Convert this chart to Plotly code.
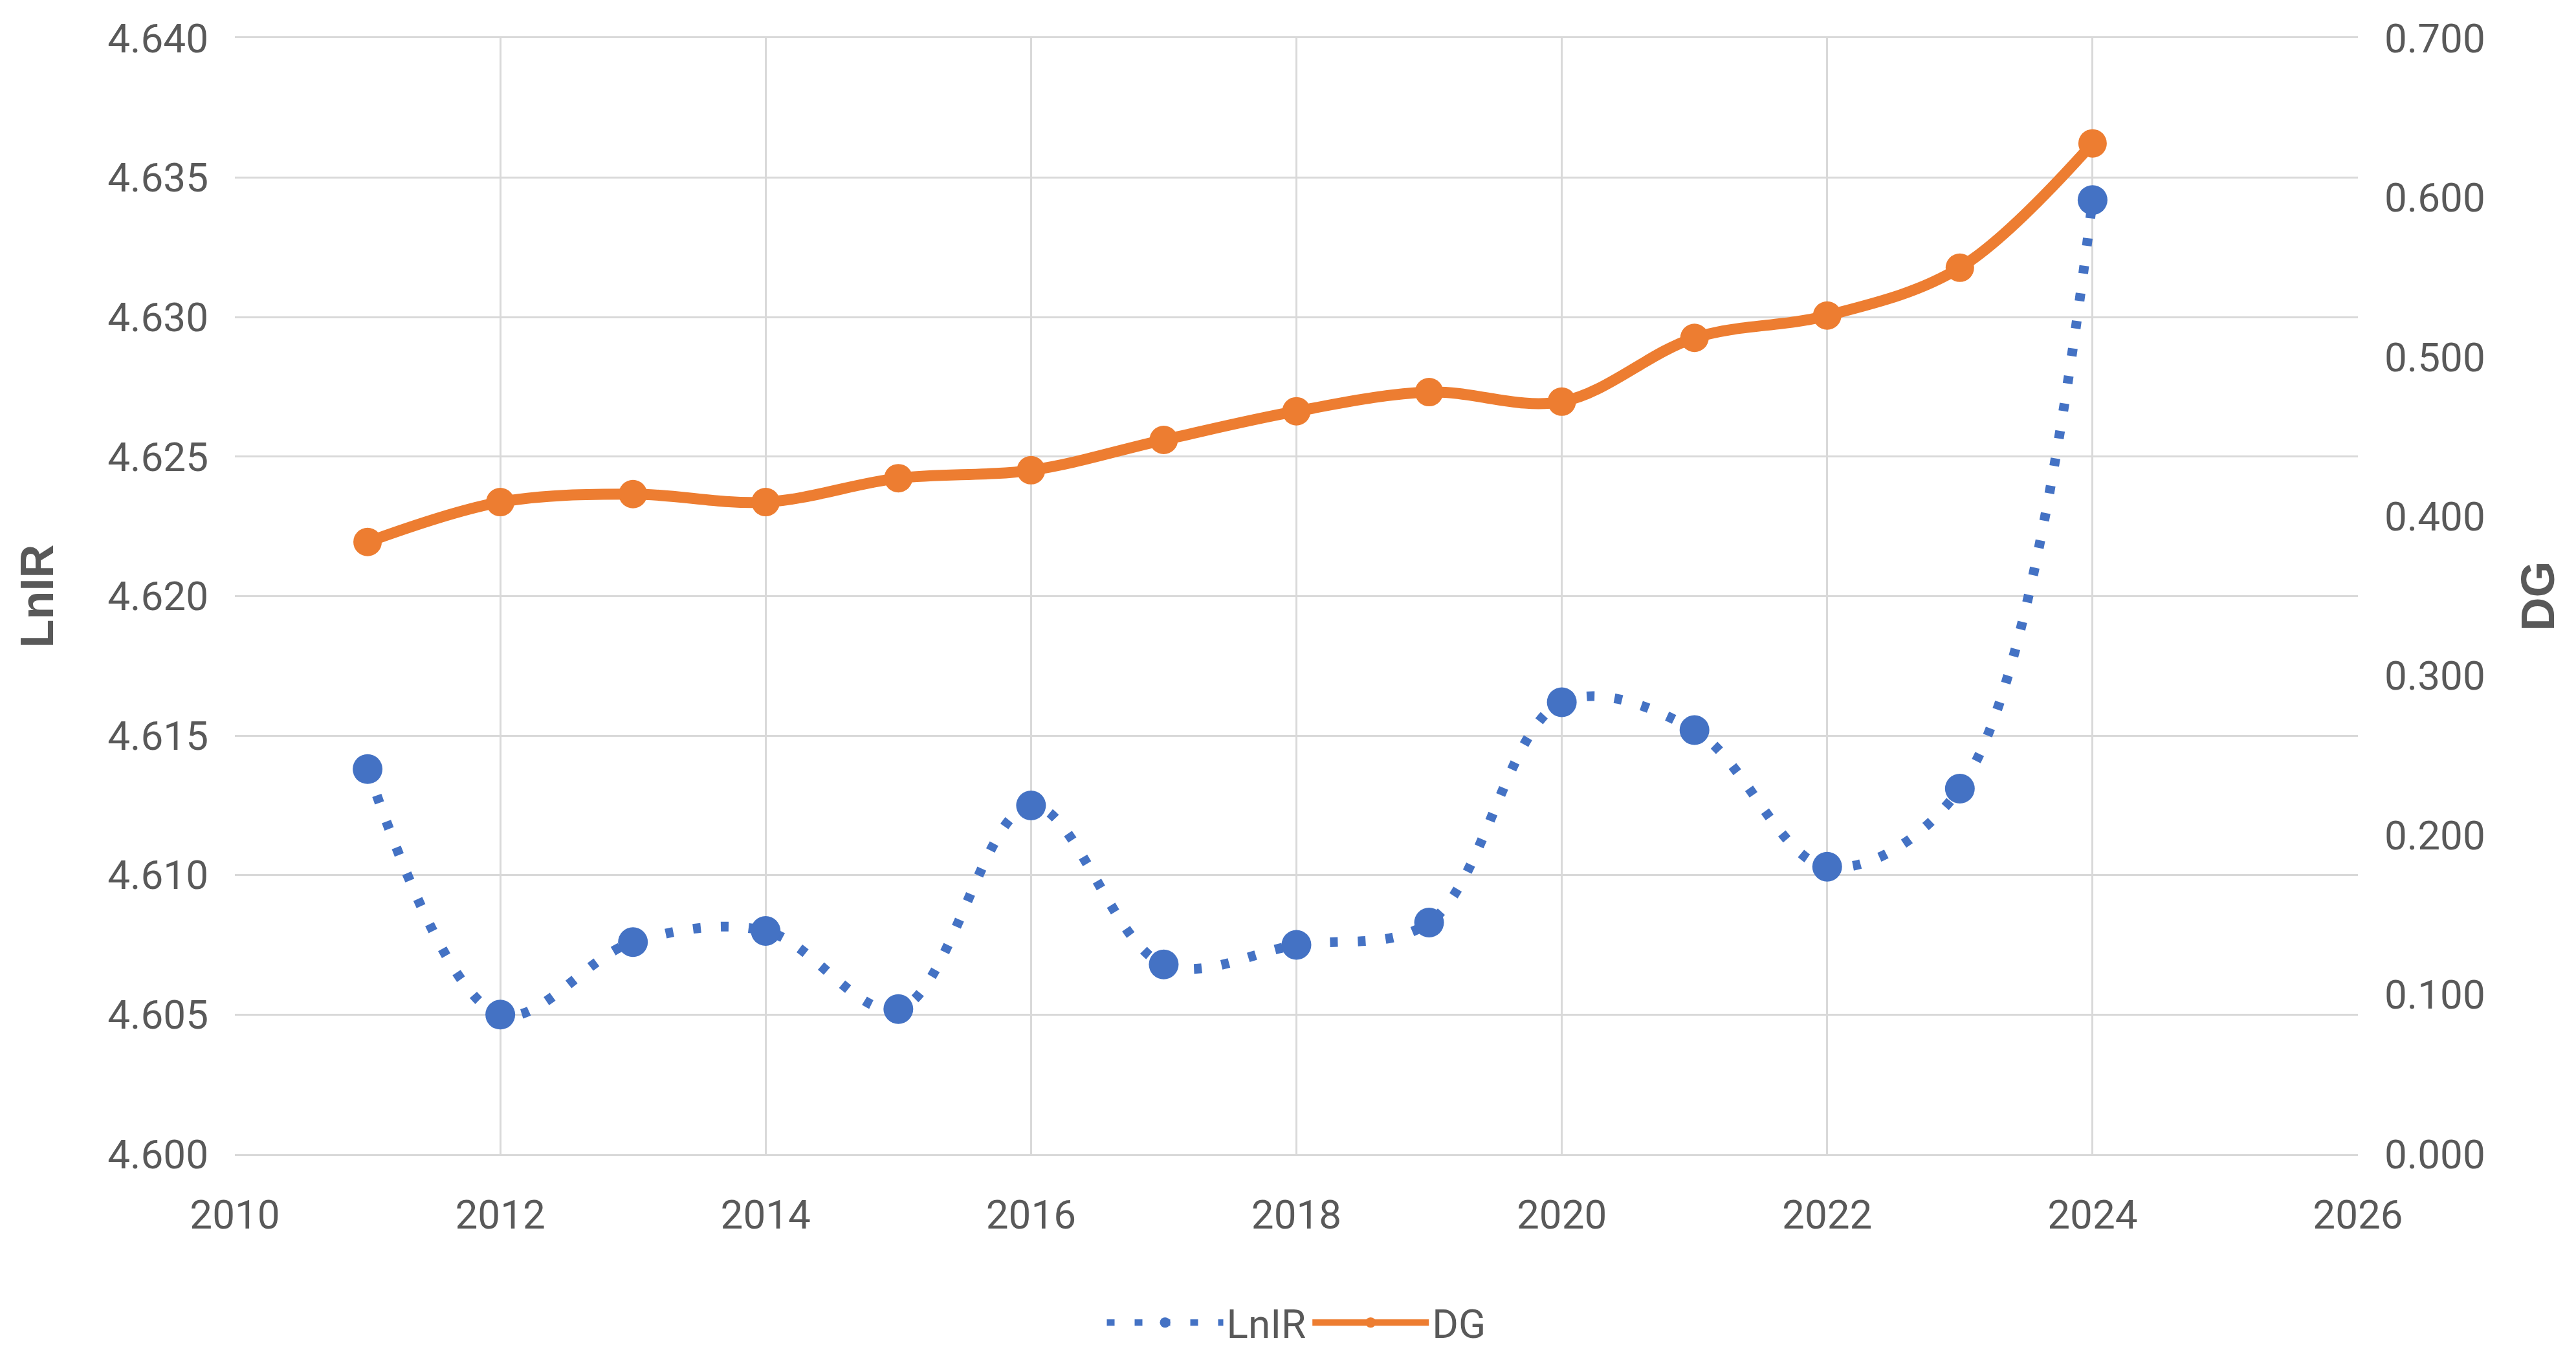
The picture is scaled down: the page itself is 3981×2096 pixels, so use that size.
import plotly.graph_objects as go

years = [2011, 2012, 2013, 2014, 2015, 2016, 2017, 2018, 2019, 2020, 2021, 2022, 2023, 2024]
lnir = [4.6138, 4.6050, 4.6076, 4.6080, 4.6052, 4.6125, 4.6068, 4.6075, 4.6083,
        4.6162, 4.6152, 4.6103, 4.6131, 4.6342]
dg = [0.384, 0.409, 0.414, 0.409, 0.424, 0.429, 0.448, 0.466, 0.478,
      0.472, 0.512, 0.526, 0.556, 0.634]

x_ticks = [2010, 2012, 2014, 2016, 2018, 2020, 2022, 2024, 2026]

FONT = "Roboto, sans-serif"
TXT = "#595959"
GRID = "#d9d9d9"
BLUE = "#4472c4"
ORANGE = "#ed7d31"

fig = go.Figure()
fig.add_trace(go.Scatter(
    x=years, y=lnir, name="LnIR", mode="lines+markers",
    line=dict(color=BLUE, width=15, dash="12px,31px", shape="spline", smoothing=1),
    marker=dict(color=BLUE, size=46),
    yaxis="y",
))
fig.add_trace(go.Scatter(
    x=years, y=dg, name="DG", mode="lines+markers",
    line=dict(color=ORANGE, width=17, shape="spline", smoothing=1),
    marker=dict(color=ORANGE, size=44),
    yaxis="y2",
))

fig.update_layout(
    width=3981, height=2096,
    margin=dict(l=355, r=345, t=51, b=316),
    paper_bgcolor="white", plot_bgcolor="white",
    font=dict(family=FONT, size=62, color=TXT),
    showlegend=True,
    legend=dict(orientation="h", x=0.5, xanchor="center", y=-0.151, yanchor="middle",
                font=dict(family=FONT, size=62, color=TXT), itemwidth=180,
                traceorder="normal"),
    xaxis=dict(range=[2010, 2026], tickvals=x_ticks, ticktext=[str(v) for v in x_ticks],
               showgrid=True, gridcolor=GRID, gridwidth=3, zeroline=False,
               showline=True, linecolor=GRID, linewidth=3, mirror=True,
               ticks="", ticklabelstandoff=38,
               tickfont=dict(family=FONT, size=62, color=TXT)),
    yaxis=dict(range=[4.600, 4.640], dtick=0.005, tick0=4.600, tickformat=".3f",
               showgrid=True, gridcolor=GRID, gridwidth=3, zeroline=False,
               showline=False, ticks="", ticklabelstandoff=40,
               tickfont=dict(family=FONT, size=62, color=TXT),
               title=dict(text="<b>LnIR</b>", standoff=60,
                          font=dict(family="Liberation Sans, Roboto, sans-serif", size=72, color=TXT))),
    yaxis2=dict(range=[0, 0.7], dtick=0.1, tick0=0, tickformat=".3f",
                overlaying="y", side="right",
                showgrid=False, zeroline=False, showline=False, ticks="",
                ticklabelstandoff=40,
                tickfont=dict(family=FONT, size=62, color=TXT),
                title=dict(text="<b>DG</b>", standoff=56,
                           font=dict(family="Liberation Sans, Roboto, sans-serif", size=72, color=TXT))),
)

fig.write_html("out.html")
